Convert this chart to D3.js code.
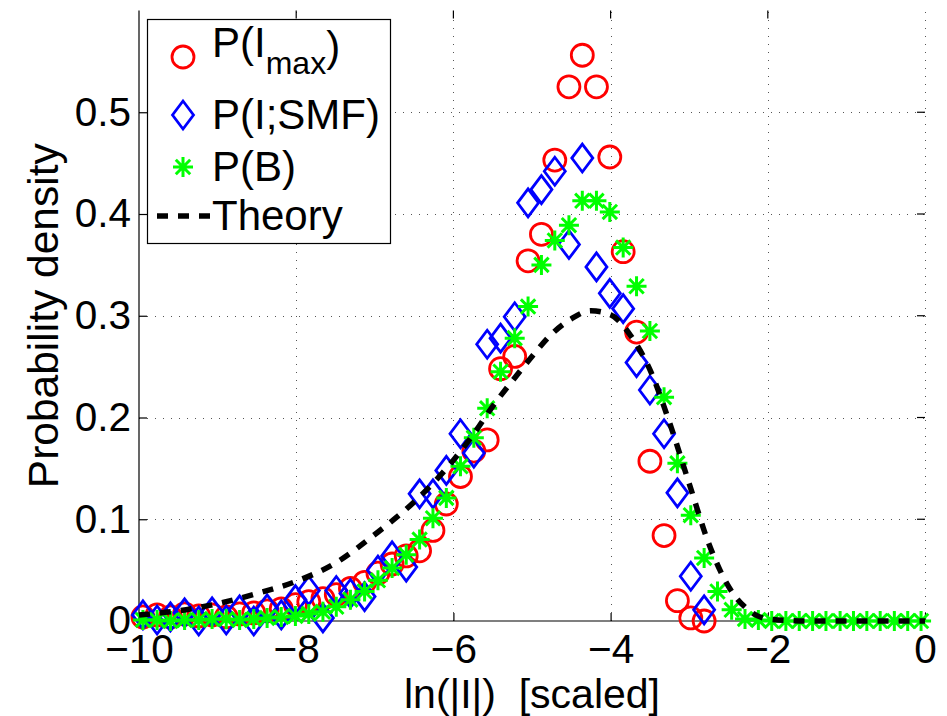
<!DOCTYPE html>
<html>
<head>
<meta charset="utf-8">
<script src="https://cdn.jsdelivr.net/npm/d3@7"></script>
<style>
  html, body { margin: 0; padding: 0; background: #fff; }
  svg { display: block; }
  text { font-family: "Liberation Sans", Arial, Helvetica, sans-serif; fill: #000; }
</style>
</head>
<body>
<svg id="chart" width="947" height="716"></svg>
<script>
// Bin centres of ln(|I|) shared by the three histograms
const binCenters = [
  -9.95, -9.77, -9.60, -9.42, -9.24, -9.07, -8.89, -8.72, -8.54, -8.37,
  -8.19, -8.01, -7.84, -7.66, -7.49, -7.31, -7.13, -6.96, -6.78, -6.60,
  -6.43, -6.26, -6.09, -5.91, -5.74, -5.57, -5.40, -5.22, -5.05, -4.88,
  -4.71, -4.53, -4.36, -4.18, -4.01, -3.84, -3.67, -3.50, -3.32, -3.15,
  -2.98, -2.81, -2.64, -2.46, -2.29, -2.12, -1.95, -1.77, -1.60, -1.43,
  -1.26, -1.08, -0.91, -0.74, -0.57, -0.39, -0.22, -0.05
];

// P(I_max): red circles (first 42 bins)
const pImax = [
  0.004, 0.006, 0.004, 0.007, 0.005, 0.006, 0.004, 0.007, 0.008, 0.010,
  0.012, 0.016, 0.019, 0.022, 0.026, 0.032, 0.038, 0.047, 0.056, 0.064,
  0.069, 0.089, 0.115, 0.142, 0.167, 0.178, 0.248, 0.260, 0.354, 0.380,
  0.453, 0.525, 0.556, 0.525, 0.456, 0.363, 0.284, 0.157, 0.084, 0.020,
  0.003, 0.000
];

// P(I;SMF): blue diamonds (first 42 bins)
const pSMF = [
  0.006, 0.001, 0.004, 0.008, 0.000, 0.009, 0.001, 0.011, 0.000, 0.012,
  0.006, 0.021, 0.030, 0.003, 0.030, 0.027, 0.024, 0.050, 0.064, 0.053,
  0.125, 0.125, 0.148, 0.184, 0.165, 0.272, 0.278, 0.299, 0.411, 0.424,
  0.442, 0.370, 0.455, 0.348, 0.322, 0.307, 0.254, 0.227, 0.184, 0.126,
  0.044, 0.011
];

// P(B): green asterisks (all bins)
const pB = [
  0.001, 0.001, 0.000, 0.001, 0.001, 0.002, 0.002, 0.001, 0.002, 0.003,
  0.004, 0.005, 0.007, 0.009, 0.014, 0.021, 0.029, 0.040, 0.052, 0.065,
  0.080, 0.101, 0.121, 0.152, 0.180, 0.209, 0.245, 0.278, 0.309, 0.350,
  0.374, 0.389, 0.413, 0.413, 0.402, 0.367, 0.329, 0.285, 0.220, 0.155,
  0.104, 0.062, 0.029, 0.011, 0.002, 0.001, 0.000, 0.000, 0.000, 0.000,
  0.000, 0.000, 0.000, 0.000, 0.000, 0.000, 0.000, 0.000
];

// Theoretical density curve
const theoryX = [
  -10, -9.5, -9, -8.5, -8, -7.5, -7, -6.5, -6, -5.75, -5.5, -5.25, -5,
  -4.75, -4.5, -4.25, -4, -3.75, -3.5, -3.25, -3, -2.75, -2.5, -2.25, -2,
  -1.5, -1, -0.5, 0
];
const theoryY = [
  0.006, 0.010, 0.017, 0.027, 0.039, 0.057, 0.085, 0.117, 0.158, 0.183,
  0.211, 0.236, 0.260, 0.282, 0.297, 0.305, 0.301, 0.281, 0.247, 0.195,
  0.135, 0.076, 0.034, 0.011, 0.002, 0.000, 0.000, 0.000, 0.000
];

const xTicks = [-10, -8, -6, -4, -2, 0];
const yTicks = [0, 0.1, 0.2, 0.3, 0.4, 0.5];

(function draw() {
  const svg = d3.select("#chart");
  const W = 947, H = 716;
  svg.append("rect").attr("width", W).attr("height", H).attr("fill", "#fff");

  const pLeft = 139, pRight = 925, pTop = 10.5, pBottom = 621;
  const x = d3.scaleLinear().domain([-10, 0]).range([pLeft, pRight]);
  const y = d3.scaleLinear().domain([0, 0.6]).range([pBottom, pTop]);

  const tickFont = 40.5, labelFont = 42.5, legendFont = 42;
  const fontFamily = '"Liberation Sans", Arial, sans-serif';
  const fmtX = d => d < 0 ? "\u2212" + Math.abs(d) : String(d);
  const fmtY = d => d === 0 ? "0" : d3.format(".1f")(d);

  // dotted grid
  const grid = svg.append("g").attr("stroke", "#555").attr("stroke-width", 1)
    .attr("stroke-dasharray", "1,7").attr("shape-rendering", "crispEdges");
  xTicks.filter(t => t > -10).forEach(t => {
    const gx = Math.round(x(t)) + 0.5;
    grid.append("line").attr("x1", gx).attr("x2", gx).attr("y1", pBottom).attr("y2", pTop);
  });
  yTicks.filter(t => t > 0).forEach(t => {
    const gy = Math.round(y(t)) + 0.5;
    grid.append("line").attr("y1", gy).attr("y2", gy).attr("x1", pLeft).attr("x2", pRight);
  });

  // axes (ticks point inward)
  const xAxis = d3.axisBottom(x).tickValues(xTicks).tickSize(-8).tickPadding(13).tickFormat(fmtX);
  const yAxis = d3.axisLeft(y).tickValues(yTicks).tickSize(-8).tickPadding(8).tickFormat(fmtY);

  const gx = svg.append("g").attr("transform", `translate(0,${pBottom})`).call(xAxis);
  const gy = svg.append("g").attr("transform", `translate(${pLeft},0)`).call(yAxis);
  [gx, gy].forEach(g => {
    g.select(".domain").attr("stroke", "#000").attr("stroke-width", 1.2);
    g.selectAll(".tick line").attr("stroke", "#000").attr("stroke-width", 1.2);
    g.selectAll(".tick text").attr("font-size", tickFont)
      .attr("font-family", fontFamily).attr("fill", "#000");
  });
  gx.select(".domain").attr("d", `M${pLeft},0H${pRight}`);
  gy.select(".domain").attr("d", `M0,${pBottom}V${pTop}`);

  // mirrored tick marks on top and right edges
  const mirror = svg.append("g").attr("stroke", "#000").attr("stroke-width", 1.2);
  xTicks.filter(t => t > -10 && t < 0).forEach(t => {
    mirror.append("line").attr("x1", x(t)).attr("x2", x(t)).attr("y1", pTop).attr("y2", pTop + 8);
  });
  yTicks.filter(t => t > 0).forEach(t => {
    mirror.append("line").attr("x1", pRight).attr("x2", pRight - 8).attr("y1", y(t)).attr("y2", y(t));
  });

  // axis titles
  svg.append("text")
    .attr("x", (pLeft + pRight) / 2).attr("y", 708)
    .attr("text-anchor", "middle").attr("font-size", 41)
    .attr("xml:space", "preserve")
    .text("ln(|I|)  [scaled]");

  svg.append("text")
    .attr("transform", `translate(58,${(pTop + pBottom) / 2}) rotate(-90)`)
    .attr("text-anchor", "middle").attr("font-size", labelFont)
    .text("Probability density");

  // marker shapes
  const diamondPath = "M0,-14L10.5,0L0,14L-10.5,0Z";
  const starPath = "M0,-10V10M-10,0H10M-7.2,-7.2L7.2,7.2M-7.2,7.2L7.2,-7.2";
  const circleR = 11;

  const plot = svg.append("g");

  plot.append("g").selectAll("circle")
    .data(pImax.map((v, i) => [binCenters[i], v]))
    .join("circle")
    .attr("cx", d => x(d[0])).attr("cy", d => y(d[1])).attr("r", circleR)
    .attr("fill", "none").attr("stroke", "#ff0000").attr("stroke-width", 2.8);

  plot.append("g").selectAll("path")
    .data(pSMF.map((v, i) => [binCenters[i], v]))
    .join("path")
    .attr("d", diamondPath)
    .attr("transform", d => `translate(${x(d[0])},${y(d[1])})`)
    .attr("fill", "none").attr("stroke", "#0000ff").attr("stroke-width", 2.8);

  plot.append("g").selectAll("path")
    .data(pB.map((v, i) => [binCenters[i], v]))
    .join("path")
    .attr("d", starPath)
    .attr("transform", d => `translate(${x(d[0])},${y(d[1])})`)
    .attr("fill", "none").attr("stroke", "#00ff00").attr("stroke-width", 3);

  const theoryLine = d3.line()
    .x(d => x(d[0])).y(d => y(d[1]))
    .curve(d3.curveMonotoneX);
  plot.append("path")
    .datum(theoryX.map((v, i) => [v, theoryY[i]]))
    .attr("d", theoryLine)
    .attr("fill", "none").attr("stroke", "#000").attr("stroke-width", 5.5)
    .attr("stroke-dasharray", "11,10");

  // legend
  const lg = svg.append("g");
  lg.append("rect").attr("x", 147.5).attr("y", 19.5).attr("width", 243).attr("height", 224)
    .attr("fill", "#fff").attr("stroke", "#000").attr("stroke-width", 1.2);

  const mx = 183, tx = 212;
  lg.append("circle").attr("cx", mx).attr("cy", 57).attr("r", circleR)
    .attr("fill", "none").attr("stroke", "#ff0000").attr("stroke-width", 2.8);
  lg.append("path").attr("d", diamondPath).attr("transform", `translate(${mx},115)`)
    .attr("fill", "none").attr("stroke", "#0000ff").attr("stroke-width", 2.8);
  lg.append("path").attr("d", starPath).attr("transform", `translate(${mx},167)`)
    .attr("fill", "none").attr("stroke", "#00ff00").attr("stroke-width", 3);
  lg.append("line").attr("x1", 157).attr("x2", 210).attr("y1", 216).attr("y2", 216)
    .attr("stroke", "#000").attr("stroke-width", 5.5).attr("stroke-dasharray", "11,10");

  const t1 = lg.append("text").attr("x", tx).attr("y", 57).attr("font-size", legendFont);
  t1.append("tspan").text("P(I");
  t1.append("tspan").attr("font-size", 32).attr("dy", 17).text("max");
  t1.append("tspan").attr("dy", -13).text(")");

  lg.append("text").attr("x", tx).attr("y", 129).attr("font-size", legendFont).text("P(I;SMF)");
  lg.append("text").attr("x", tx).attr("y", 181).attr("font-size", legendFont).text("P(B)");
  lg.append("text").attr("x", tx).attr("y", 230).attr("font-size", legendFont).text("Theory");
})();
</script>
</body>
</html>
